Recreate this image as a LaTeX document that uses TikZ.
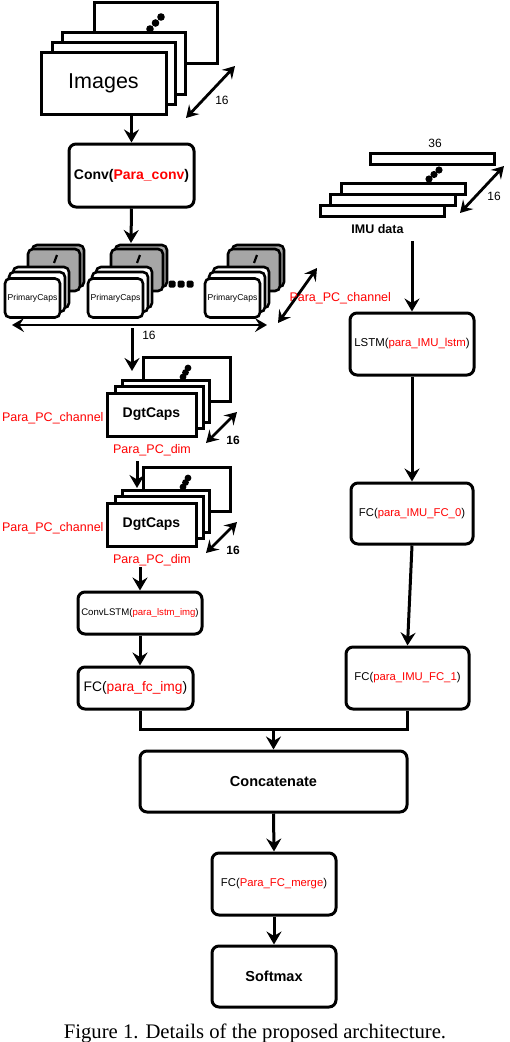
\documentclass[tikz,border=0pt]{standalone}
\usepackage{fontspec}
\setmainfont{Liberation Serif}
\setsansfont{Liberation Sans}
\usepackage{tikz}
\usetikzlibrary{arrows.meta}

\tikzset{
  blk/.style={draw, line width=3pt, rounded corners=7pt, align=center, inner sep=0pt,
    font=\sffamily},
  sheet/.style={draw, line width=3pt, fill=white},
  capsheet/.style={draw, line width=2.6pt, rounded corners=5pt},
  arr/.style={line width=3pt, -{Stealth[length=13pt, width=15pt, inset=4.5pt]}},
  dbl/.style={line width=2.8pt,
    {Stealth[length=12pt, width=14pt, inset=4.5pt]}-{Stealth[length=12pt, width=14pt, inset=4.5pt]}},
  lbl/.style={font=\sffamily\fontsize{12}{14}\selectfont, inner sep=0pt},
  redlbl/.style={font=\sffamily\fontsize{12.5}{14}\selectfont, text=red, inner sep=0pt},
}
\newcommand{\redtxt}[1]{\textcolor{red}{#1}}

\begin{document}
\begin{tikzpicture}[x=1pt, y=-1pt, line width=3pt]
    \useasboundingbox (0,0) rectangle (510,1042);

    % draw image stack
    \draw[sheet] (94,2) rectangle (217,63);
    \draw[sheet] (62,32) rectangle (185,94);
    \draw[sheet] (52,42) rectangle (175,104);
    \node[sheet, minimum width=125pt, minimum height=62pt, inner sep=0pt,
      font=\sffamily\fontsize{21.5}{24}\selectfont] (images) at (103.5,83) {Images};
    \foreach \px/\py in {150/29, 155.5/23, 161/17}
      \fill (\px,\py) circle (3.8pt);
    \coordinate (imgA) at (186,118);
    \coordinate (imgB) at (235,66);
    \draw[dbl] (imgA) -- (imgB);
    \node[lbl] (img16) at (222,100) {16};

    % draw conv
    \node[blk, minimum width=125pt, minimum height=63pt,
      font=\sffamily\bfseries\fontsize{14}{16}\selectfont] (conv) at (131.5,175.5)
      {Conv(\redtxt{Para\_conv})};
    \draw[arr] (conv.north |- images.south) -- (conv.north);

    % draw primary capsules
    \foreach \dx/\nm in {0/pc1, 83/pc2, 200/pc3} {
      \filldraw[capsheet, fill=gray!70] (\dx+32,245) rectangle (\dx+84,287);
      \filldraw[capsheet, fill=gray!70] (\dx+28,249) rectangle (\dx+80,291);
      \draw[line width=2.2pt] (\dx+54,263) -- (\dx+57,255);
      \filldraw[capsheet, fill=white] (\dx+13,267) rectangle (\dx+69,308);
      \filldraw[capsheet, fill=white] (\dx+9,272) rectangle (\dx+65,312);
      \node[capsheet, fill=white, minimum width=55pt, minimum height=39pt, inner sep=0pt,
        font=\sffamily\fontsize{8.6}{10}\selectfont] (\nm) at (\dx+32.5,298) {PrimaryCaps};
    }
    \foreach \px in {172, 181, 190}
      \fill[rounded corners=1.5pt] (\px-3.5,280.5) rectangle (\px+3.5,287.5);
    \coordinate (pcin) at (131,243);
    \draw[arr] (conv.south) -- (pcin);
    \coordinate (wl) at (12,325);
    \coordinate (wr) at (267,325);
    \draw[dbl] (wl) -- (wr);
    \node[lbl] (pc16) at (149,335) {16};
    \coordinate (chA) at (278,323);
    \coordinate (chB) at (317,268);
    \draw[dbl] (chA) -- (chB);
    \node[redlbl, anchor=west] (pcch) at (288,298) {Para\_PC\_channel};

    % draw digit capsules
    \foreach \dy/\nm in {0/dgt1, 110/dgt2} {
      \draw[sheet] (143,357+\dy) rectangle (230,401+\dy);
      \draw[sheet] (122,380+\dy) rectangle (209,422+\dy);
      \draw[sheet] (115,386+\dy) rectangle (203,428+\dy);
      \node[sheet, minimum width=89pt, minimum height=43pt, inner sep=0pt,
        font=\sffamily\bfseries\fontsize{14}{16}\selectfont] (\nm) at (151.5,414.5+\dy) {DgtCaps};
      \foreach \px/\py in {183/377, 185.5/372.5, 188/368}
        \fill (\px,\py+\dy) circle (3.4pt);
      \draw[dbl] (206,443+\dy) -- (237,412+\dy);
      \node[lbl, font=\sffamily\bfseries\fontsize{12}{14}\selectfont] at (233,440+\dy) {16};
      \node[redlbl, anchor=east] at (105,418+\dy) {Para\_PC\_channel};
      \node[redlbl] at (152,450+\dy) {Para\_PC\_dim};
    }
    \coordinate (d1top) at (132,328);
    \coordinate (d1in) at (132,371);
    \draw[arr] (d1top) -- (d1in);
    \coordinate (d2top) at (137,461);
    \coordinate (d2in) at (137,488);
    \draw[arr] (d2top) -- (d2in);

    % draw image branch
    \node[blk, minimum width=124pt, minimum height=42pt,
      font=\sffamily\fontsize{9.6}{11}\selectfont] (convlstm) at (140,613)
      {ConvLSTM(\redtxt{para\_lstm\_img})};
    \coordinate (clin) at (140,567);
    \draw[arr] (clin) -- (convlstm.north);
    \node[blk, minimum width=115pt, minimum height=42pt,
      font=\sffamily\fontsize{13.8}{16}\selectfont] (fcimg) at (135.5,688)
      {FC(\redtxt{para\_fc\_img})};
    \draw[arr] (convlstm.south) -- (convlstm.south |- fcimg.north);

    % draw IMU stack
    \draw[sheet] (370,153) rectangle (494,164);
    \draw[sheet] (341,183) rectangle (465,194);
    \draw[sheet] (330,194) rectangle (455,205);
    \draw[sheet] (320,205) rectangle (444,216);
    \foreach \px/\py in {429/179, 434/174.5, 439/170}
      \fill (\px,\py) circle (3.6pt);
    \node[lbl] (imu36) at (435,143) {36};
    \draw[dbl] (460,213) -- (504,166);
    \node[lbl] (imu16) at (494,196) {16};
    \node[font=\sffamily\bfseries\fontsize{12.5}{14}\selectfont, inner sep=1pt] (imu) at (377.5,229) {IMU data};

    % draw IMU branch
    \node[blk, minimum width=124pt, minimum height=62pt,
      font=\sffamily\fontsize{11.4}{13}\selectfont] (lstm) at (412,344)
      {LSTM(\redtxt{para\_IMU\_lstm})};
    \draw[arr] (lstm.north |- imu.south) ++(0,5) -- (lstm.north);
    \node[blk, minimum width=122pt, minimum height=61pt,
      font=\sffamily\fontsize{11.3}{13}\selectfont] (fc0) at (412,513.5)
      {FC(\redtxt{para\_IMU\_FC\_0})};
    \draw[arr] (lstm.south) -- (fc0.north);
    \node[blk, minimum width=123pt, minimum height=62pt,
      font=\sffamily\fontsize{11.3}{13}\selectfont] (fc1) at (407.5,678)
      {FC(\redtxt{para\_IMU\_FC\_1})};
    \draw[arr] (fc0.south) -- (fc1.north);

    % draw merge
    \node[blk, minimum width=267pt, minimum height=61pt,
      font=\sffamily\bfseries\fontsize{14.5}{16}\selectfont] (concat) at (273.5,781.5) {Concatenate};
    \coordinate (join) at (273.5,729);
    \draw (fcimg.south -| convlstm.south) |- (join) -| (fc1.south);
    \draw[arr] (join) -- (concat.north);
    \node[blk, minimum width=124pt, minimum height=62pt,
      font=\sffamily\fontsize{11.3}{13}\selectfont] (fcmerge) at (274,884)
      {FC(\redtxt{Para\_FC\_merge})};
    \draw[arr] (concat.south) -- (fcmerge.north);
    \node[blk, minimum width=124pt, minimum height=61pt,
      font=\sffamily\bfseries\fontsize{14.5}{16}\selectfont] (softmax) at (274,976.5) {Softmax};
    \draw[arr] (fcmerge.south) -- (softmax.north);

    % caption
    \node[anchor=base, inner sep=0pt, font=\fontsize{20.7}{24}\selectfont] (cap) at (255,1038)
      {Figure 1. Details of the proposed architecture.};
\end{tikzpicture}
\end{document}
